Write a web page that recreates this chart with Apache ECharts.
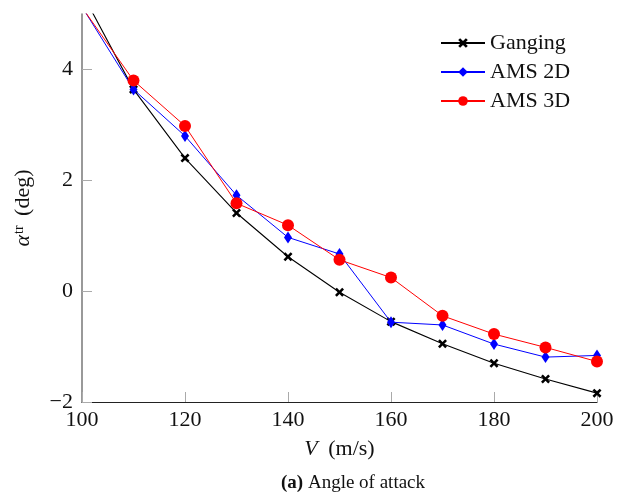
<!DOCTYPE html>
<html>
<head>
<meta charset="utf-8">
<script src="https://cdn.jsdelivr.net/npm/echarts@6/dist/echarts.min.js"></script>
<style>
html,body{margin:0;padding:0;background:#fff;}
#c{width:617px;height:503px;}
</style>
</head>
<body>
<div id="c"></div>
<script>
const speeds = [100, 110, 120, 130, 140, 150, 160, 170, 180, 190, 200];
const ganging = [5.38, 3.64, 2.40, 1.41, 0.62, -0.02, -0.55, -0.95, -1.30, -1.585, -1.84];
const ams2d = [5.13, 3.64, 2.80, 1.73, 0.97, 0.67, -0.56, -0.61, -0.955, -1.19, -1.16];
const ams3d = [5.12, 3.80, 2.98, 1.585, 1.19, 0.565, 0.245, -0.445, -0.775, -1.015, -1.27];
const xTicks = [100, 120, 140, 160, 180, 200];
const yTicks = [-2, 0, 2, 4];
const seriesNames = ['Ganging', 'AMS 2D', 'AMS 3D'];

const FONT = '"Liberation Serif", "Times New Roman", "DejaVu Serif", serif';
const crossPath = 'path://M0,2 L2,0 L5,3 L8,0 L10,2 L7,5 L10,8 L8,10 L5,7 L2,10 L0,8 L3,5 Z';
const pairs = arr => speeds.map((v, i) => [v, arr[i]]);

const chart = echarts.init(document.getElementById('c'), null, {renderer: 'canvas'});
chart.setOption({
  animation: false,
  backgroundColor: '#fff',
  grid: {left: 82, right: 20, top: 14, bottom: 101, containLabel: false},
  textStyle: {fontFamily: FONT},
  legend: {
    orient: 'vertical',
    left: 440,
    top: 32,
    padding: 0,
    itemWidth: 44,
    itemHeight: 12,
    itemGap: 7,
    textStyle: {fontFamily: FONT, fontSize: 22, color: '#111', lineHeight: 22},
    data: seriesNames
  },
  xAxis: {
    type: 'value',
    min: 100, max: 200, interval: 20,
    name: '{i|V} (m/s)',
    nameLocation: 'middle',
    nameGap: 36,
    nameTextStyle: {fontFamily: FONT, fontSize: 22, color: '#111',
      rich: {i: {fontFamily: FONT, fontSize: 22, fontStyle: 'italic', color: '#111', padding: [0, 5, 0, 0]}}},
    axisLine: {show: true, onZero: false, lineStyle: {color: '#222', width: 1.2}},
    axisTick: {show: true, inside: true, length: 10, lineStyle: {color: '#aaa', width: 1}, customValues: xTicks},
    axisLabel: {fontFamily: FONT, fontSize: 22, color: '#111', margin: 7, customValues: xTicks},
    splitLine: {show: false}
  },
  yAxis: {
    type: 'value',
    min: -2, max: 5, interval: 2,
    name: '{a|α}{s|tr} (deg)',
    nameLocation: 'middle',
    nameGap: 48,
    nameTextStyle: {fontFamily: FONT, fontSize: 22, color: '#111',
      rich: {
        a: {fontFamily: FONT, fontSize: 22, fontStyle: 'italic', color: '#111'},
        s: {fontFamily: FONT, fontSize: 14, color: '#111', verticalAlign: 'top', padding: [0, 4, 8, 1]}
      }},
    axisLine: {show: true, onZero: false, lineStyle: {color: '#777', width: 1.5}},
    axisTick: {show: true, inside: true, length: 10, lineStyle: {color: '#aaa', width: 1}, customValues: yTicks},
    axisLabel: {fontFamily: FONT, fontSize: 22, color: '#111', margin: 9, customValues: yTicks,
      formatter: v => String(v).replace('-', '\u2212')},
    splitLine: {show: false}
  },
  graphic: [{
    type: 'text',
    left: 281,
    top: 474,
    style: {
      text: '{b|(a)} Angle of attack',
      fontFamily: FONT,
      fontSize: 19,
      fill: '#111',
      rich: {b: {fontFamily: FONT, fontSize: 19, fontWeight: 'bold', fill: '#111'}}
    }
  }],
  series: [
    {
      name: seriesNames[0], type: 'line', data: pairs(ganging), clip: true,
      symbol: crossPath, symbolSize: 9, showAllSymbol: true,
      itemStyle: {color: '#000'},
      lineStyle: {color: '#000', width: 1.1}, z: 2
    },
    {
      name: seriesNames[1], type: 'line', data: pairs(ams2d), clip: true,
      symbol: 'diamond', symbolSize: [8, 12], showAllSymbol: true,
      itemStyle: {color: '#0000ff'},
      lineStyle: {color: '#0000ff', width: 1}, z: 3
    },
    {
      name: seriesNames[2], type: 'line', data: pairs(ams3d), clip: true,
      symbol: 'circle', symbolSize: 12, showAllSymbol: true,
      itemStyle: {color: '#ff0000'},
      lineStyle: {color: '#ff0000', width: 1}, z: 4
    }
  ]
});
</script>
</body>
</html>
